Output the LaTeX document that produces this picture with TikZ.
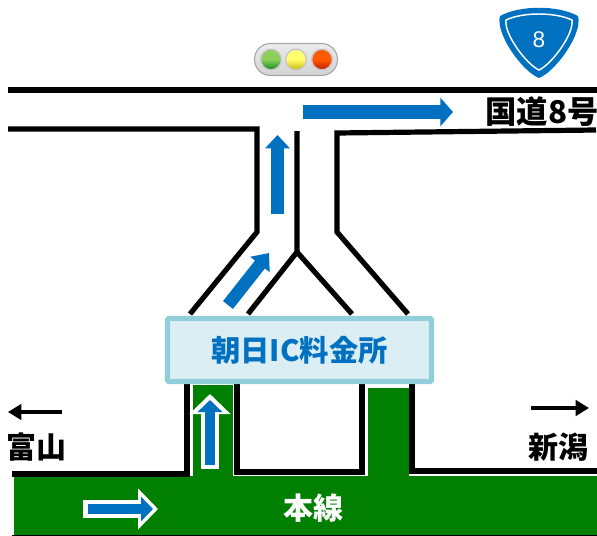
\documentclass[tikz,border=0pt]{standalone}
\usepackage{fontspec}
\newfontfamily\cjk{Noto Sans CJK JP}
\newfontfamily\signfont{Liberation Sans}
\usepackage{xcolor}
\usetikzlibrary{arrows.meta}
\tikzset{>=latex}
\definecolor{arrowcol}{HTML}{0070C0}
\definecolor{greencol}{HTML}{007F00}
\definecolor{boxcol}{HTML}{DBEEF4}
\definecolor{boxedge}{HTML}{92CDDC}
\definecolor{gohi}{HTML}{8CCF5A}
\definecolor{golo}{HTML}{0A8A20}
\definecolor{waithi}{HTML}{FFFF70}
\definecolor{waitlo}{HTML}{C8B400}
\definecolor{stophi}{HTML}{FF5A00}
\definecolor{stoplo}{HTML}{C01808}
\tikzstyle{road}=[line width=3.9pt,black,line join=miter]
\tikzstyle{flow}=[line width=10.5pt,arrowcol,-{Triangle[length=9.5pt,width=21pt]}]
\tikzstyle{flow out}=[line width=14pt,white,-{Triangle[length=15pt,width=30pt]}]
\tikzstyle{flow in}=[line width=7.5pt,arrowcol,-{Triangle[length=9pt,width=18pt]}]
\tikzstyle{way}=[line width=3.6pt,black,-{Triangle[length=10pt,width=11.5pt]}]
\tikzstyle{label}=[font=\cjk\bfseries\fontsize{22.5}{22.5}\selectfont,inner sep=0pt]
\tikzstyle{lamp}=[circle,minimum size=15.5pt,inner sep=0pt,draw=gray!45,line width=1pt]

\begin{document}
\begin{tikzpicture}[x=0.75pt,y=-0.75pt]
  \useasboundingbox (0,0) rectangle (597,536);

  % main line
  \fill[greencol] (14,476) rectangle (597,535);
  \fill[greencol] (193,385) rectangle (233,478);
  \fill[greencol] (368,388) rectangle (409,478);
  \draw[line width=1pt] (12,535.5) -- (597,535.5);

  % roads
  \draw[road] (8,90) -- (597,90);
  \draw[road] (8,129) -- (257,129) -- (257,232) -- (190,314);
  \draw[road] (297,131) -- (297,252) -- (248,314);
  \draw[road] (297,252) -- (352,314);
  \draw[road] (596,130) -- (337,133) -- (337,232) -- (408,314);
  \draw[road] (12,474) -- (187,474) -- (187,380);
  \draw[road] (237,380) -- (237,472) -- (362,472) -- (362,380);
  \draw[road] (597,471) -- (412,471) -- (412,380);

  % toll gate
  \node[draw=boxedge,fill=boxcol,line width=3.8pt,rounded corners=1pt,
    minimum width=198pt,minimum height=47.5pt,inner sep=0pt,
    text=arrowcol,font=\cjk\bfseries\fontsize{22}{22}\selectfont]
    (gate) at (299.5,350) {朝日IC料金所};

  % directions
  \coordinate (eastA) at (303,112);
  \coordinate (eastB) at (453,112);
  \coordinate (upA) at (277.5,214);
  \coordinate (upB) at (277.5,135);
  \coordinate (slantA) at (228,305);
  \coordinate (slantB) at (269,253);
  \draw[flow] (eastA) -- (eastB);
  \draw[flow,line width=9.5pt,-{Triangle[length=10pt,width=18pt]}] (upA) -- (upB);
  \draw[flow,line width=9.5pt,-{Triangle[length=11pt,width=18pt]}] (slantA) -- (slantB);

  \coordinate (inA) at (210,469);
  \coordinate (inB) at (210,394);
  \coordinate (inC) at (210,465);
  \coordinate (inD) at (210,400);
  \draw[flow out] (inA) -- (inB);
  \draw[flow in] (inC) -- (inD);

  \coordinate (mainA) at (83,509);
  \coordinate (mainB) at (158,509);
  \coordinate (mainC) at (88,509);
  \coordinate (mainD) at (153,509);
  \draw[flow out] (mainA) -- (mainB);
  \draw[flow in] (mainC) -- (mainD);

  \coordinate (leftA) at (62,412);
  \coordinate (leftB) at (8,412);
  \coordinate (rightA) at (531,408);
  \coordinate (rightB) at (589,408);
  \draw[way] (leftA) -- (leftB);
  \draw[way] (rightA) -- (rightB);

  % place names
  \node[label,font=\cjk\bfseries\fontsize{23.5}{23.5}\selectfont] (route) at (542,112) {国道8号};
  \node[label] (toyama) at (37,447) {富山};
  \node[label] (niigata) at (558,447) {新潟};
  \node[label,white] (honsen) at (313,508) {本線};

  % signal
  \draw[gray!70,line width=0.8pt,top color=gray!15,bottom color=gray!35,rounded corners=12pt]
    (254.5,43.5) rectangle (337.5,75.5);
  \foreach \name/\x in {go/271,wait/296,stop/322}
    \node[lamp,top color=\name hi,bottom color=\name lo,middle color=\name hi] (\name) at (\x,59.5) {};

  % route shield
  \fill[arrowcol] (500,16) .. controls (520,5) and (558,5) .. (578,16)
    .. controls (583,34) and (555,72) .. (539,78)
    .. controls (523,72) and (495,34) .. (500,16) -- cycle;
  \draw[white,line width=1.1pt] (506,20) .. controls (523,12) and (555,12) .. (572,20)
    .. controls (574,34) and (552,64) .. (539,70)
    .. controls (526,64) and (504,34) .. (506,20) -- cycle;
  \node[white,inner sep=0pt,font=\signfont\fontsize{17}{17}\selectfont] (shield) at (539,40) {8};
\end{tikzpicture}
\end{document}
